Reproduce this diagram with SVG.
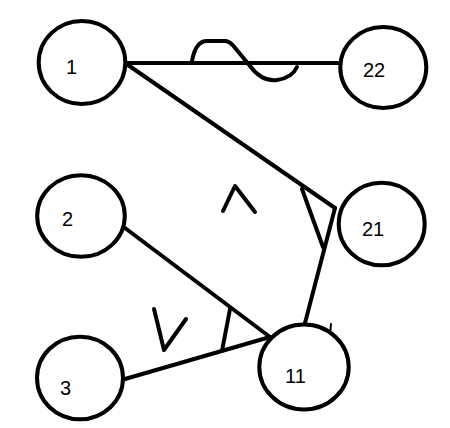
<svg xmlns="http://www.w3.org/2000/svg" width="450" height="428" viewBox="0 0 450 428">
<style>
.node ellipse{fill:#ffffff;stroke:#000000;stroke-width:4}
.node text{font-family:"Liberation Sans",Arial,sans-serif;font-size:20px;fill:#000000}
.edge{stroke:#000000;stroke-width:4;fill:none;stroke-linecap:round;stroke-linejoin:round}
</style>
<rect width="450" height="428" fill="#ffffff"/>
<g id="connectors">
<line class="edge" x1="127" y1="63" x2="338" y2="63"/>
<line class="edge" x1="128" y1="65" x2="335" y2="208"/>
<line class="edge" x1="335" y1="208" x2="305" y2="323"/>
<line class="edge" x1="125" y1="228" x2="270" y2="337"/>
<line class="edge" x1="125" y1="379" x2="270" y2="337"/>
</g>
<g id="marks">
<path class="edge" d="M192,61 C194,50 198,41 207,41 L226,41 Q231,42 236,49 L250,66 Q262,82 277,80 Q292,78 297,67"/>
<path class="edge" d="M302,189 L323,247"/>
<path class="edge" d="M230,309 L222,351"/>
<path class="edge" d="M223,211 L235,186 L255,212"/>
<path class="edge" d="M154,309 L164,350 L186,319"/>
<path class="edge" style="stroke-width:2" d="M331,324 L330,334"/>
</g>
<g id="node-1" class="node">
<ellipse cx="82" cy="62.5" rx="43.3" ry="41.5"/>
<text x="66" y="74">1</text>
</g>
<g id="node-22" class="node">
<ellipse cx="383.3" cy="67.5" rx="43" ry="40.5"/>
<text x="363" y="77">22</text>
</g>
<g id="node-2" class="node">
<ellipse cx="81" cy="216" rx="43.8" ry="40.8"/>
<text x="62" y="226">2</text>
</g>
<g id="node-21" class="node">
<ellipse cx="381.7" cy="224" rx="43" ry="41.3"/>
<text x="362" y="236">21</text>
</g>
<g id="node-3" class="node">
<ellipse cx="80" cy="378" rx="43" ry="41.3"/>
<text x="60" y="395">3</text>
</g>
<g id="node-11" class="node">
<ellipse cx="304" cy="367" rx="44.7" ry="42.5"/>
<text x="285" y="383">11</text>
</g>
</svg>
